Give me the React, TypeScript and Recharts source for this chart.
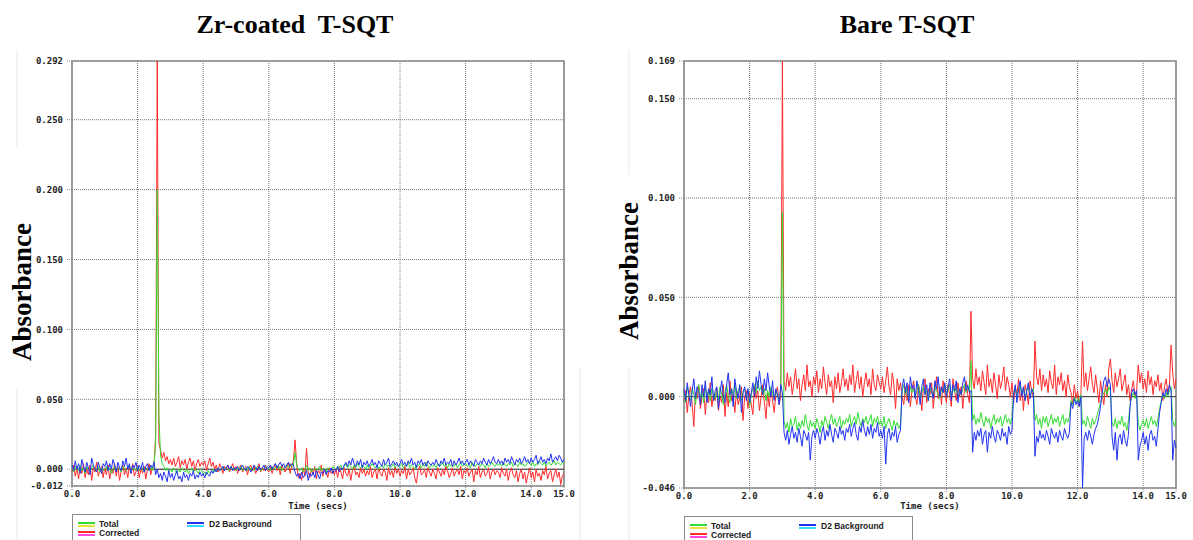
import React from 'react';
import { LineChart, Line, XAxis, YAxis, CartesianGrid, ReferenceLine, ReferenceArea } from 'recharts';

// Sampling grid: one reading every 0.05 s from 0.0 s to 15.0 s
const SAMPLE_START = 0;
const SAMPLE_STEP = 0.05;

// ---- Zr-coated T-SQT (values in milli-absorbance, 1 = 0.001 Abs) ----
const zrTotal = [
  1, -2, 2, 0, -1, 3, -1, 1, -3, 2, 0, -2, 1, 3, -1, 0, 2, -2, 1, -1,
  0, 2, -1, 1, -3, 0, 2, -1, 1, 0, -2, 2, 1, -1, 0, 3, -2, 1, 0, -1,
  2, -1, 0, 1, -2, 1, 0, -1, 2, -1, 3, 18, 200, 38, 10, 4, 2, -1, 1, -2,
  0, -2, 1, -1, -3, 0, -2, 1, -1, -2, 0, -3, -1, 1, -2, 0, -1, -3, 0, -1,
  -3, -2, -4, -1, -3, -2, 0, -2, -1, 1, -1, 0, 2, -1, 1, 0, -1, 2, 0, 1,
  -1, 1, 0, 2, -1, 0, 1, -1, 2, 0, 1, -1, 0, 2, 1, -1, 0, 1, 2, 0,
  1, -1, 2, 0, 1, 3, 0, 2, -1, 1, 2, 3, 1, 4, 2, 3, 12, 3, 0, -1,
  1, -2, 0, 3, -1, 1, -2, 0, 1, -1, 0, 2, -1, 1, 0, -2, 1, 0, -1, 2,
  1, 0, 2, 1, 3, 0, 2, 4, 1, 3, 2, 0, 3, 1, 4, 2, 1, 3, 2, 0,
  3, 1, 2, 4, 2, 1, 3, 0, 2, 3, 1, 4, 2, 3, 1, 2, 4, 1, 3, 2,
  2, 4, 1, 3, 2, 5, 1, 3, 2, 0, 3, 2, 4, 1, 3, 2, 5, 2, 1, 3,
  2, 3, 1, 4, 2, 3, 5, 2, 3, 1, 4, 2, 3, 2, 4, 1, 3, 5, 2, 3,
  4, 2, 3, 1, 5, 3, 2, 4, 3, 2, 4, 3, 1, 4, 2, 3, 5, 3, 2, 4,
  3, 4, 2, 5, 3, 2, 4, 3, 5, 2, 4, 3, 2, 5, 3, 4, 2, 3, 5, 4,
  3, 5, 2, 4, 3, 6, 4, 3, 5, 2, 4, 5, 3, 4, 6, 3, 5, 4, 3, 5,
  4,
];
const zrCorrected = [
  -2, 3, -5, 1, -7, 2, -3, 4, -6, 0, -4, 3, -8, 1, -2, 5, -5, -1, 2, -6,
  1, -4, 3, -7, 0, -3, 4, -5, 2, -8, -1, 3, -4, 1, -6, 2, -3, 4, -5, -2,
  3, -6, 1, -3, 2, -7, 0, 4, -4, 1, 2, 25, 292, 18, 14, 8, 12, 6, 9, 4,
  7, 3, 8, 2, 5, 9, 1, 6, 3, 7, 0, 5, 8, 2, 6, -1, 4, 7, 2, 5,
  3, 6, -1, 4, 8, 2, 5, 0, 3, -2, 4, 1, -3, 2, 0, 3, -2, 1, 4, -1,
  2, -3, 1, 3, -2, 0, 2, -4, 1, 3, -1, 2, -3, 0, 4, -2, 1, -1, 3, 0,
  -2, 2, -3, 1, 4, -1, 2, -4, 3, 0, -2, 1, 5, -3, 2, 6, 21, 4, -6, -3,
  -8, 1, -5, 15, -2, -6, 0, -4, 2, -7, -1, -3, 3, -5, 0, -2, -6, 1, -3, -1,
  -4, 0, -6, 2, -2, -7, 1, -3, -5, 0, -8, -1, 2, -4, -2, -6, 1, -3, 0, -5,
  -1, -4, 2, -6, -2, 0, -7, 1, -3, -5, 0, -2, -8, 1, -4, -1, -6, 2, -3, 0,
  -5, -1, -3, 2, -7, 0, -4, -2, 1, -6, -10, -1, 2, -4, -3, 0, -6, 1, -2, -5,
  0, -3, -7, 1, -2, -5, 0, -4, 2, -1, -6, -3, 1, -5, -2, 0, -4, 2, -7, -1,
  -3, 1, -5, -2, 0, -9, -1, -4, 2, -6, -2, 0, -5, -3, 1, -7, -2, 0, -4, -1,
  -2, -6, 1, -3, -5, 0, -8, -2, 1, -4, -6, -1, -9, -3, 0, -7, -2, -10, -4, 1,
  -6, -2, -9, 0, -5, -3, -8, -1, -4, 2, -7, -3, -1, -9, -4, 0, -6, -2, -11, -5,
  -3,
];
const zrBackground = [
  3, -1, 6, 0, 4, -3, 7, 2, -2, 5, 1, -4, 8, 3, 0, -2, 5, 1, -3, 4,
  2, 6, -1, 4, 0, 7, 3, -2, 5, 1, -1, 6, 2, 8, 0, 4, -3, 3, 1, 5,
  -1, 3, 0, 5, -2, 2, 4, -1, 3, 1, 5, -4, 0, -6, -3, -8, -2, -5, -9, -1,
  -6, -3, -8, -4, -1, -7, -5, -9, -2, -6, -4, -8, -3, -5, -1, -7, -4, -6, -2, -5,
  -3, -6, -2, -4, -5, -1, -3, 0, -2, 1, -1, 0, 2, -1, 1, 3, 0, 2, -1, 1,
  0, 2, -1, 1, 3, 0, -1, 2, 1, -2, 0, 3, 1, -1, 2, 0, 1, 3, -1, 2,
  1, 3, 0, 2, 4, 1, 3, 5, 2, 4, 1, 3, 5, 2, 4, 3, -2, -5, -3, -7,
  -2, -6, -4, -1, -8, -3, -5, -2, -6, -1, -4, -7, -2, -3, 0, -4, -1, -2, 1, -3,
  0, -1, 2, -2, 1, 0, 3, 5, 2, 6, 3, 8, 4, 2, 6, 3, 7, 1, 5, 3,
  6, 2, 4, 7, 3, 5, 1, 6, 4, 2, 7, 3, 5, 8, 2, 4, 6, 3, 5, 2,
  4, 7, 3, 5, 2, 6, 4, 8, 3, 5, 1, 6, 4, 7, 3, 5, 2, 6, 4, 3,
  5, 3, 7, 4, 2, 6, 4, 8, 3, 5, 4, 7, 2, 6, 3, 5, 8, 4, 6, 3,
  5, 7, 3, 6, 4, 2, 7, 5, 3, 6, 4, 8, 5, 3, 7, 4, 6, 9, 5, 4,
  7, 4, 6, 3, 8, 5, 7, 4, 9, 6, 3, 7, 5, 8, 4, 6, 9, 5, 7, 4,
  8, 5, 7, 10, 4, 6, 9, 5, 7, 4, 8, 6, 11, 5, 7, 9, 6, 10, 8, 5,
  7,
];

// ---- Bare T-SQT (values in milli-absorbance) ----
const bareTotal = [
  2, -3, 5, 0, -2, 4, 1, -4, 3, 6, -1, 2, -3, 5, 0, 3, -2, 4, 1, -1,
  3, -2, 5, 1, -4, 2, 6, 0, -3, 4, 1, 7, -1, 3, 5, -2, 2, 4, 0, 3,
  -5, 1, 4, 6, 2, 8, 3, 5, 1, 4, -2, 3, 0, 5, 2, -1, 3, 1, -2, 4,
  93, -12, -16, -13, -18, -11, -15, -14, -10, -17, -13, -16, -12, -15, -9, -14, -17, -12, -15, -13,
  -16, -11, -14, -18, -12, -15, -10, -13, -16, -12, -9, -14, -11, -15, -13, -10, -16, -12, -14, -11,
  -13, -9, -15, -12, -10, -14, -8, -12, -15, -11, -13, -10, -14, -12, -9, -15, -11, -13, -10, -14,
  -12, -15, -10, -16, -13, -11, -14, -17, -12, -15, -13, -16, -14, 3, 6, 1, 4, -2, 5, 2,
  4, 0, 3, 6, -1, 2, 5, 1, 3, -2, 4, 2, 0, 5, 3, 1, -1, 4, 2, 6,
  1, 3, 6, 0, 4, 2, 5, -1, 3, 1, 4, 6, 2, 5, 3, 18, -12, -9, -14, -11,
  -13, -8, -12, -15, -10, -13, -11, -16, -12, -9, -14, -11, -13, -10, -15, -12, -9, -13, -11, -14,
  -10, 2, 5, 0, 3, 6, 1, 4, -1, 3, 5, 0, 2, 4, -12, -9, -14, -11, -16, -10,
  -13, -10, -15, -12, -9, -14, -11, -13, -10, -15, -12, -9, -14, -11, -13, -10, -2, -4, 0, -3,
  -1, -3, 1, -14, -12, -15, -10, -13, -16, -11, -14, -12, -9, -6, -3, 0, 2, 4, 1, 5,
  3, -13, -15, -11, -16, -12, -14, -10, -15, -13, -17, -12, -4, 0, 2, -1, 1, -13, -17, -14,
  -12, -15, -11, -16, -13, -10, -14, -12, -15, -11, -6, -2, 1, -1, 2, 0, 3, 5, -12, -15,
  -11,
];
const bareCorrected = [
  -2, 3, -8, 1, 5, -4, -15, 2, -1, 6, -6, 0, 4, -9, 2, -3, 7, -5, 1, -2,
  4, -7, 0, -3, 6, -10, 2, -5, 8, -2, 1, -8, 3, -4, -1, 5, -12, 0, 3, -6,
  2, -4, -9, 5, -1, 3, -7, 0, 6, -3, -11, 2, -5, 4, -2, -8, 1, 5, -4, 0,
  169, 8, 3, 12, 5, 10, 1, 7, 14, 4, 9, -2, 6, 11, 3, 16, 5, 8, 0, 10,
  6, 13, 2, 9, 4, 15, 7, 1, 11, 5, 8, -3, 10, 4, 12, 2, 7, 14, 5, 9,
  3, 11, 6, 16, 2, 8, 13, 4, 10, 0, 7, 12, 5, 9, 1, 14, 6, 3, 11, 7,
  4, 10, 2, 8, 15, 5, 1, 12, 6, -6, 9, 3, 7, 0, -4, 5, -2, 6, -5, 3,
  8, 0, -4, 6, 2, -7, 5, 9, -3, 4, 1, 7, -6, 3, 10, -1, 5, -4, 8, 2,
  -3, 6, 1, -5, 9, 3, -2, 7, 0, 5, -6, 4, 8, 1, -3, 43, 9, 4, 14, 6,
  10, 3, 13, 7, 1, 16, 5, 9, 2, 12, 6, -1, 11, 4, 8, 15, 3, 10, 6, 0,
  7, -3, 5, 1, 9, -2, 4, -7, 6, 2, -4, 8, 3, 0, 28, 10, 6, 14, 3, 11,
  5, 9, 2, 13, 7, 4, 16, 1, 10, 6, 12, 3, 8, 0, 11, 5, 2, -4, 6, -1,
  3, -5, 1, 28, 5, 12, 3, 9, 15, 6, 2, 11, 4, -3, 8, 1, -4, 6, 0, 14,
  19, 8, 2, 12, 5, 9, 14, 3, 7, 11, 1, 6, -2, 4, 8, 0, 3, 16, 7, 12,
  4, 9, 2, 13, 6, 10, 1, 8, 5, 11, 3, 7, -2, 5, 9, 2, 6, 26, 12, 4,
  9,
];
const bareBackground = [
  4, -2, 7, 1, -5, 3, 9, -1, 5, 2, -4, 6, 0, 8, -3, 4, 1, 10, -2, 3,
  5, -6, 2, 8, 0, -3, 6, 12, 1, 4, -5, 9, 3, -1, 6, -8, 2, 5, -2, 4,
  -3, 2, 7, 0, 10, 4, 13, 6, 1, 9, 3, 12, 5, 0, 8, -2, 4, 1, -4, 6,
  2, -18, -22, -17, -24, -19, -15, -21, -18, -23, -16, -20, -25, -17, -19, -22, -18, -32, -20, -17,
  -21, -16, -19, -24, -18, -15, -22, -17, -20, -14, -19, -23, -16, -18, -21, -15, -19, -17, -22, -16,
  -18, -14, -20, -16, -13, -19, -22, -15, -18, -12, -17, -20, -15, -19, -14, -21, -16, -18, -13, -20,
  -17, -21, -15, -34, -19, -16, -22, -18, -20, -15, -23, -19, -17, 5, 9, 2, 7, -3, 10, 4,
  6, -1, 8, 3, -4, 5, 9, 1, 6, -2, 7, 3, -1, 8, 4, 10, 0, 5, 2, 7,
  0, 5, 9, -2, 6, 3, 8, -3, 4, 1, 7, 10, 3, 6, 2, 3, -28, -18, -22, -17,
  -20, -16, -24, -19, -17, -28, -18, -21, -15, -20, -23, -17, -19, -22, -16, -20, -18, -24, -15, -19,
  -17, 1, 6, -3, 4, 8, 0, 5, -2, 3, 7, -1, 4, 2, -30, -20, -23, -17, -21, -19,
  -22, -17, -20, -24, -16, -19, -21, -18, -23, -17, -20, -22, -16, -19, -21, -18, -3, -6, -1, -4,
  -2, -5, 0, -46, -21, -18, -22, -17, -20, -24, -19, -16, -14, -10, -5, 2, 8, 10, 5, 9,
  6, -20, -27, -18, -32, -21, -19, -24, -17, -22, -25, -19, -5, 2, 4, 1, 3, -32, -25, -22,
  -18, -24, -20, -27, -19, -17, -22, -20, -25, -16, -8, -3, 2, 0, 4, 1, 6, 3, -32, -22,
  -26,
];

// ---- Axes ----
const timeTicks = [0, 2, 4, 6, 8, 10, 12, 14, 15];
const zrAbsTicks = [-12, 0, 50, 100, 150, 200, 250, 292];
const bareAbsTicks = [-46, 0, 50, 100, 150, 169];

const titles = ['Zr-coated  T-SQT', 'Bare T-SQT'];
const yTitle = 'Absorbance';
const xTitle = 'Time (secs)';
const seriesNames = { total: 'Total', corrected: 'Corrected', d2: 'D2 Background' };

const COLORS = {
  total: '#35dc35',
  corrected: '#ff2b2b',
  d2: '#2233f0',
};

function buildRows(total: number[], corrected: number[], d2: number[]) {
  return total.map((v, i) => ({
    t: Math.round((SAMPLE_START + i * SAMPLE_STEP) * 100) / 100,
    total: v,
    corrected: corrected[i],
    d2: d2[i],
  }));
}

const zrRows = buildRows(zrTotal, zrCorrected, zrBackground);
const bareRows = buildRows(bareTotal, bareCorrected, bareBackground);

const tickStyle = { fontSize: 9, fontFamily: 'DejaVu Sans Mono', fontWeight: 'bold' as const, fill: '#222' };

type PanelProps = {
  left: number;
  width: number;
  rows: any[];
  yTicks: number[];
  yAxisWidth: number;
  xAxisHeight: number;
  marginRight: number;
};

function Panel({ left, width, rows, yTicks, yAxisWidth, xAxisHeight, marginRight }: PanelProps) {
  const yMin = yTicks[0];
  const yMax = yTicks[yTicks.length - 1];
  return (
    <div style={{ position: 'absolute', left, top: 0 }}>
      <LineChart width={width} height={540} data={rows} margin={{ top: 61, right: marginRight, bottom: 0, left: 0 }}>
        <CartesianGrid stroke="#777" strokeDasharray="1 1" />
        <XAxis
          dataKey="t"
          type="number"
          domain={[0, 15]}
          ticks={timeTicks}
          tickFormatter={(v: number) => v.toFixed(1)}
          height={xAxisHeight}
          axisLine={false}
          tickSize={4}
          tickMargin={1}
          tickLine={{ stroke: '#888', strokeDasharray: '1 1' }}
          tick={tickStyle}
          interval={0}
          label={{ value: xTitle, position: 'insideBottom', offset: 31, style: { ...tickStyle } }}
        />
        <YAxis
          type="number"
          domain={[yMin, yMax]}
          allowDataOverflow
          ticks={yTicks}
          tickFormatter={(v: number) => (v / 1000).toFixed(3)}
          width={yAxisWidth}
          axisLine={false}
          tickSize={5}
          tickMargin={4}
          tickLine={{ stroke: '#888', strokeDasharray: '1 1' }}
          tick={tickStyle}
          interval={0}
        />
        <ReferenceLine y={0} stroke="#3a3333" strokeWidth={1} />
        <Line type="linear" dataKey="corrected" name={seriesNames.corrected} stroke={COLORS.corrected} strokeWidth={1} dot={false} isAnimationActive={false} />
        <Line type="linear" dataKey="total" name={seriesNames.total} stroke={COLORS.total} strokeWidth={1} dot={false} isAnimationActive={false} />
        <Line type="linear" dataKey="d2" name={seriesNames.d2} stroke={COLORS.d2} strokeWidth={1} dot={false} isAnimationActive={false} />
        <ReferenceArea x1={0} x2={15} y1={yMin} y2={yMax} fill="none" stroke="#8a8a8a" strokeWidth={1.6} ifOverflow="visible" />
      </LineChart>
    </div>
  );
}

function LegendBox({ left, top }: { left: number; top: number }) {
  const textStyle: React.CSSProperties = {
    position: 'absolute',
    fontFamily: 'Liberation Sans, Arial, sans-serif',
    fontWeight: 'bold',
    fontSize: 8.5,
    lineHeight: '10px',
    color: '#222',
    whiteSpace: 'pre',
  };
  const swatch = (x: number, y: number, c1: string, c2: string) => (
    <>
      <div style={{ position: 'absolute', left: x, top: y, width: 17, height: 2, background: c1 }} />
      <div style={{ position: 'absolute', left: x, top: y + 2.5, width: 17, height: 2, background: c2 }} />
    </>
  );
  return (
    <div style={{ position: 'absolute', left, top, width: 229, height: 40, border: '1.5px solid #8a8a8a', background: '#fff', boxSizing: 'border-box' }}>
      {swatch(5, 7, COLORS.total, '#e8e23a')}
      <div style={{ ...textStyle, left: 26, top: 4 }}>{seriesNames.total}</div>
      {swatch(5, 16, COLORS.corrected, '#ff45e0')}
      <div style={{ ...textStyle, left: 26, top: 13 }}>{seriesNames.corrected}</div>
      {swatch(114, 7, COLORS.d2, '#3ad8ff')}
      <div style={{ ...textStyle, left: 136, top: 4 }}>{seriesNames.d2}</div>
    </div>
  );
}

export default function App() {
  const serif = 'Liberation Serif, Times New Roman, serif';
  return (
    <div style={{ position: 'absolute', left: 0, top: 0, width: 1193, height: 540, background: '#fff', overflow: 'hidden' }}>
      <svg width={1193} height={540} style={{ position: 'absolute', left: 0, top: 0 }}>
        <line x1={17} y1={50} x2={17} y2={147} stroke="#e8e8e8" />
        <line x1={17} y1={388} x2={17} y2={540} stroke="#e8e8e8" />
        <line x1={580} y1={368} x2={580} y2={540} stroke="#e8e8e8" />
        <line x1={629} y1={50} x2={629} y2={175} stroke="#e8e8e8" />
        <line x1={629} y1={368} x2={629} y2={540} stroke="#e8e8e8" />
        <text x={295} y={33} textAnchor="middle" fontFamily={serif} fontWeight="bold" fontSize={26} fill="#000" style={{ whiteSpace: 'pre' }}>{titles[0]}</text>
        <text x={907} y={33} textAnchor="middle" fontFamily={serif} fontWeight="bold" fontSize={26} fill="#000" style={{ whiteSpace: 'pre' }}>{titles[1]}</text>
        <text x={31} y={292} transform="rotate(-90 31 292)" textAnchor="middle" fontFamily={serif} fontWeight="bold" fontSize={27} fill="#000">{yTitle}</text>
        <text x={638} y={271} transform="rotate(-90 638 271)" textAnchor="middle" fontFamily={serif} fontWeight="bold" fontSize={27} fill="#000">{yTitle}</text>
      </svg>
      <Panel left={0} width={600} rows={zrRows} yTicks={zrAbsTicks} yAxisWidth={72} xAxisHeight={54} marginRight={36} />
      <Panel left={600} width={593} rows={bareRows} yTicks={bareAbsTicks} yAxisWidth={84} xAxisHeight={52} marginRight={17} />
      <LegendBox left={72} top={514} />
      <LegendBox left={684} top={516} />
    </div>
  );
}
